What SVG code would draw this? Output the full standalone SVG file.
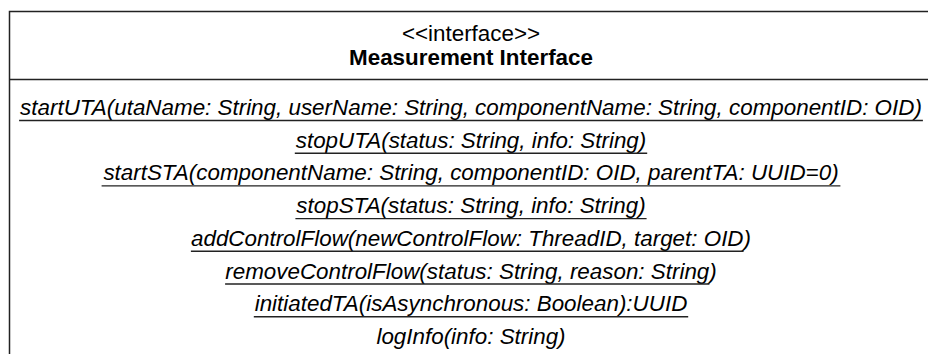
<svg xmlns="http://www.w3.org/2000/svg" width="928" height="354" viewBox="0 0 928 354">
  <style>
    .box { fill: #ffffff; stroke: #222222; stroke-width: 1.5; }
    .div { stroke: #222222; stroke-width: 1.5; }
    .t { font-family: "Liberation Sans", Arial, sans-serif; font-size: 22.4px; fill: #000000; text-anchor: middle; }
    .b { font-weight: bold; }
    .m { font-style: italic; }
    .u { stroke: #222222; stroke-width: 1.4; }
  </style>
  <rect x="0" y="0" width="928" height="354" fill="#ffffff"/>
  <g id="measurement-interface">
    <rect class="box" x="9.5" y="11.5" width="950" height="400"/>
    <line class="div" x1="9.5" y1="79.5" x2="960" y2="79.5"/>
    <text class="t" x="471" y="41">&lt;&lt;interface&gt;&gt;</text>
    <text class="t b" x="471" y="65">Measurement Interface</text>
    <text class="t m" x="471" y="115">startUTA(utaName: String, userName: String, componentName: String, componentID: OID)</text>
    <line class="u" x1="19.1" y1="120.5" x2="922.9" y2="120.5"/>
    <text class="t m" x="471" y="147.7">stopUTA(status: String, info: String)</text>
    <line class="u" x1="294.8" y1="153.2" x2="647.2" y2="153.2"/>
    <text class="t m" x="471" y="180.4">startSTA(componentName: String, componentID: OID, parentTA: UUID=0)</text>
    <line class="u" x1="101.6" y1="185.9" x2="840.4" y2="185.9"/>
    <text class="t m" x="471" y="213.1">stopSTA(status: String, info: String)</text>
    <line class="u" x1="295.4" y1="218.6" x2="646.6" y2="218.6"/>
    <text class="t m" x="471" y="245.8">addControlFlow(newControlFlow: ThreadID, target: OID)</text>
    <line class="u" x1="190.9" y1="251.3" x2="743.6" y2="251.3"/>
    <text class="t m" x="471" y="278.5">removeControlFlow(status: String, reason: String)</text>
    <line class="u" x1="225.1" y1="284" x2="709.4" y2="284"/>
    <text class="t m" x="471" y="311.2">initiatedTA(isAsynchronous: Boolean):UUID</text>
    <line class="u" x1="253.8" y1="316.7" x2="688.2" y2="316.7"/>
    <text class="t m" x="471" y="343.9">logInfo(info: String)</text>
  </g>
  <g id="connectors"/>
</svg>
